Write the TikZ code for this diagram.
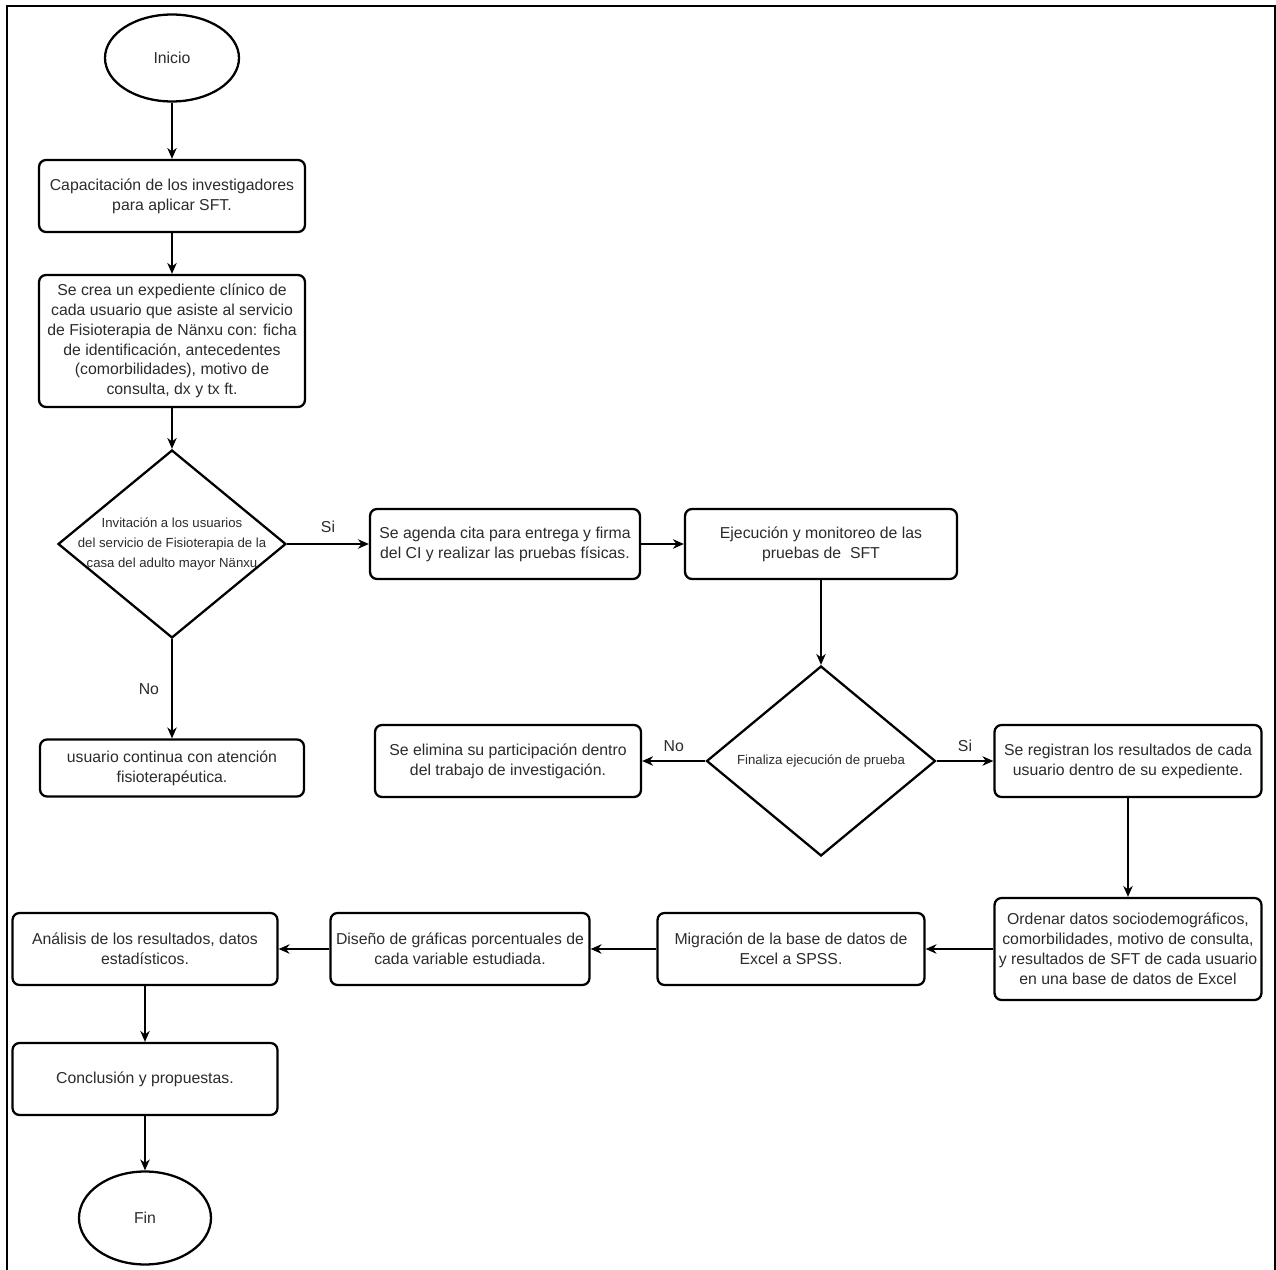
\documentclass[tikz,border=0pt]{standalone}
\usepackage{fontspec}
\setmainfont{Liberation Sans}
\usepackage{tikz}
\usetikzlibrary{shapes.geometric,arrows.meta}
\definecolor{texto}{HTML}{2B2B2B}
\tikzset{
  proceso/.style={draw,rounded corners=4pt,line width=1.3pt,align=center,text=texto,font=\fontsize{9}{11.3}\selectfont,inner sep=2pt,minimum width=5.32cm,minimum height=1.44cm},
  rombo/.style={draw,diamond,line width=1.3pt,align=center,text=texto,font=\fontsize{7.5}{11.3}\selectfont,inner sep=0pt,minimum width=4.56cm,minimum height=3.76cm},
  terminal/.style={draw,ellipse,line width=1.3pt,text=texto,font=\fontsize{9}{11.3}\selectfont},
  flecha/.style={-{Stealth[length=2.2mm,width=1.9mm]},line width=0.8pt},
  rotulo/.style={font=\fontsize{9}{11}\selectfont,text=texto,inner sep=1pt},
}

\begin{document}
\begin{tikzpicture}[x=0.02cm,y=-0.02cm]
  \useasboundingbox (0,0) rectangle (1276,1270);
  \draw[line width=1.6pt] (7,1270) |- (1275,6) -- (1275,1270);
  % columna izquierda
  \node[terminal,minimum width=2.68cm,minimum height=1.74cm] (inicio) at (172,58) {Inicio};
  \node[proceso] (capac) at (172,196) {Capacitación de los investigadores\\para aplicar SFT.};
  \node[proceso,minimum height=2.64cm] (expediente) at (172,341) {Se crea un expediente clínico de\\cada usuario que asiste al servicio\\de Fisioterapia de Nänxu con: ficha\\de identificación, antecedentes\\(comorbilidades), motivo de\\consulta, dx y tx ft.};
  \node[rombo,label={[align=center,text=texto,font=\fontsize{7.5}{11.3}\selectfont]center:Invitación a los usuarios\\del servicio de Fisioterapia de la\\casa del adulto mayor Nänxu}] (invitacion) at (172,544) {};
  \node[proceso,minimum width=5.28cm,minimum height=1.14cm] (continua) at (172,768) {usuario continua con atención\\fisioterapéutica.};
  % pruebas
  \node[proceso,minimum width=5.4cm,minimum height=1.4cm] (cita) at (505,544) {Se agenda cita para entrega y firma\\del CI y realizar las pruebas físicas.};
  \node[proceso,minimum width=5.44cm,minimum height=1.4cm] (ejecucion) at (821,544) {Ejecución y monitoreo de las\\pruebas de~~SFT};
  \node[rombo,minimum width=4.58cm,minimum height=3.8cm] (finaliza) at (821,761) {Finaliza ejecución de prueba};
  \node[proceso] (elimina) at (508,761) {Se elimina su participación dentro\\del trabajo de investigación.};
  \node[proceso,minimum width=5.34cm] (registran) at (1128,761) {Se registran los resultados de cada\\usuario dentro de su expediente.};
  % datos
  \node[proceso,minimum width=5.34cm,minimum height=2.04cm] (ordenar) at (1128,949) {Ordenar datos sociodemográficos,\\comorbilidades, motivo de consulta,\\y resultados de SFT de cada usuario\\en una base de datos de Excel};
  \node[proceso,minimum width=5.34cm] (migracion) at (791,949) {Migración de la base de datos de\\Excel a SPSS.};
  \node[proceso,minimum width=5.18cm] (diseno) at (460,949) {Diseño de gráficas porcentuales de\\cada variable estudiada.};
  \node[proceso,minimum width=5.3cm] (analisis) at (145,949) {Análisis de los resultados, datos\\estadísticos.};
  \node[proceso,minimum width=5.3cm] (conclusion) at (145,1079) {Conclusión y propuestas.};
  \node[terminal,minimum width=2.64cm,minimum height=1.86cm] (fin) at (145,1218) {Fin};
  % conectores
  \foreach \a/\b in {inicio/capac,capac/expediente,expediente/invitacion,cita/ejecucion,ejecucion/finaliza,registran/ordenar,ordenar/migracion,migracion/diseno,diseno/analisis,analisis/conclusion,conclusion/fin}
    \draw[flecha] (\a) -- (\b);
  \draw[flecha] (invitacion) -- node[rotulo,above=5pt] {Si} (cita);
  \draw[flecha] (invitacion) -- node[rotulo,left=6pt] {No} (continua);
  \draw[flecha] (finaliza) -- node[rotulo,above=4pt] {No} (elimina);
  \draw[flecha] (finaliza) -- node[rotulo,above=4pt] {Si} (registran);
\end{tikzpicture}
\end{document}
